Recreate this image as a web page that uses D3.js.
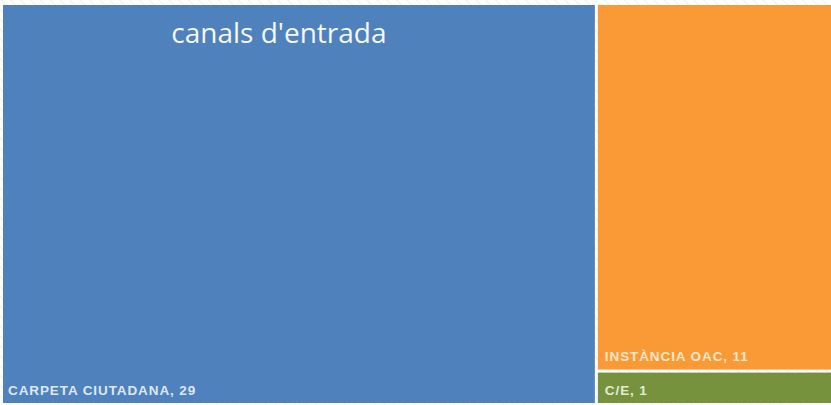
<!DOCTYPE html>
<html>
<head>
<meta charset="utf-8">
<script src="https://cdn.jsdelivr.net/npm/d3@7"></script>
<style>
html,body{margin:0;padding:0;background:#fff;overflow:hidden;}
</style>
</head>
<body>
<svg id="chart" width="831" height="405"></svg>
<script>
const categories = ["CARPETA CIUTADANA", "INSTÀNCIA OAC", "C/E"];
const values = [29, 11, 1];
const colors = ["#4f81bd", "#fa9a37", "#76923c"];
const labelColors = ["#dde7f3", "#fde6c6", "#e3ebd3"];
const title = "canals d'entrada";

const W = 831, H = 405;
const svg = d3.select("#chart");

// hatched background
const defs = svg.append("defs");
const pat = defs.append("pattern").attr("id","hatch").attr("patternUnits","userSpaceOnUse")
  .attr("width",7).attr("height",7).attr("patternTransform","rotate(-45)");
pat.append("rect").attr("width",7).attr("height",7).attr("fill","#ffffff");
pat.append("line").attr("x1",0).attr("y1",0).attr("x2",0).attr("y2",7)
  .attr("stroke","#e6e6e6").attr("stroke-width",1.2);
svg.append("rect").attr("width",W).attr("height",H).attr("fill","url(#hatch)");

const data = {name:"root", children: categories.map((c,i)=>({name:c, value:values[i], idx:i}))};
const root = d3.hierarchy(data).sum(d=>d.value || 0);

// the plot area continues a little past the right edge of the picture
d3.treemap()
  .tile(d3.treemapSquarify)
  .size([838, 398])
  .paddingInner(3)
  .round(false)(root);

const g = svg.append("g").attr("transform","translate(3,5)");
const leaves = root.leaves();

const cell = g.selectAll("g.cell").data(leaves).join("g").attr("class","cell");
cell.append("rect")
  .attr("x", d=>d.x0).attr("y", d=>d.y0)
  .attr("width", d=>Math.max(0,d.x1-d.x0)).attr("height", d=>Math.max(0,d.y1-d.y0))
  .attr("fill", d=>colors[d.data.idx]);

cell.append("text")
  .attr("x", d=>d.x0 + (d.data.idx === 0 ? 5 : 7))
  .attr("y", d=>d.y1 - (d.data.idx === 1 ? 9 : 8))
  .attr("fill", d=>labelColors[d.data.idx])
  .attr("font-family","'Liberation Sans', Arial, sans-serif")
  .attr("font-weight","700")
  .attr("font-size", 13.5)
  .attr("letter-spacing", 0.9)
  .text(d=>d.data.name + ", " + d.data.value);

// title inside the largest cell
const big = leaves[0];
svg.append("text")
  .attr("x", 3 + (big.x0+big.x1)/2 - 20)
  .attr("y", 43)
  .attr("text-anchor","middle")
  .attr("fill","#f4f7fb")
  .attr("font-family","'Open Sans', sans-serif")
  .attr("font-weight","400")
  .attr("font-size", 28)
  .text(title);
</script>
</body>
</html>
